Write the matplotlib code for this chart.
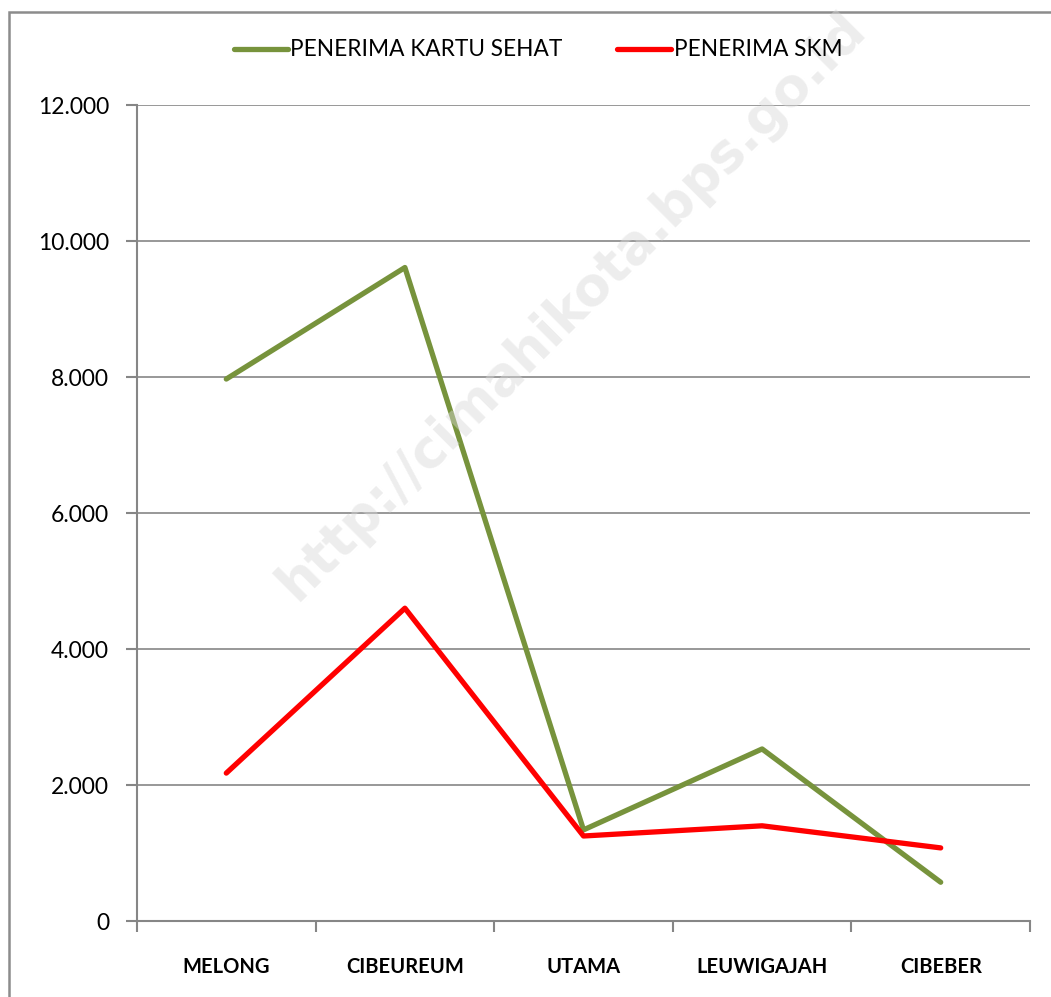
import matplotlib
matplotlib.use("Agg")
import matplotlib.pyplot as plt
from matplotlib.patches import Rectangle
from matplotlib.ticker import FuncFormatter

categories = ["MELONG", "CIBEUREUM", "UTAMA", "LEUWIGAJAH", "CIBEBER"]
kartu_sehat = [7970, 9610, 1340, 2530, 570]
skm = [2175, 4600, 1250, 1400, 1075]
series_names = ["PENERIMA KARTU SEHAT", "PENERIMA SKM"]
yticks = [0, 2000, 4000, 6000, 8000, 10000, 12000]

plt.rcParams['font.family'] = ['Lato', 'DejaVu Sans']

W, H = 1051, 997
fig = plt.figure(figsize=(W / 100, H / 100), dpi=100)
fig.patch.set_facecolor("white")

# outer frame
fig.patches.append(Rectangle((9 / W, -0.05), 1.2, 1 - 12 / H + 0.05, transform=fig.transFigure,
                             fill=False, edgecolor="#8c8c8c", linewidth=1.8, zorder=0))

ax = fig.add_axes([137 / W, (H - 921) / H, (1030 - 137) / W, (921 - 105) / H])
x = list(range(len(categories)))
ax.plot(x, kartu_sehat, color="#77933C", lw=3.8, solid_capstyle="round", solid_joinstyle="round",
        label=series_names[0], zorder=3)
ax.plot(x, skm, color="#FF0000", lw=3.8, solid_capstyle="round", solid_joinstyle="round",
        label=series_names[1], zorder=3)

ax.set_xlim(-0.5, len(categories) - 0.5)
ax.set_ylim(0, 12000)
ax.set_yticks(yticks)
ax.yaxis.set_major_formatter(FuncFormatter(lambda v, p: f"{int(v):,}".replace(",", ".")))
ax.set_xticks(x)
ax.set_xticklabels(categories, fontsize=14.5, fontweight="bold")
ax.set_xticks([i - 0.5 for i in range(len(categories) + 1)], minor=True)
ax.tick_params(axis="x", which="major", length=0, pad=26)
ax.tick_params(axis="x", which="minor", length=8, width=1.5, color="#868686", direction="out")
ax.tick_params(axis="y", length=8, width=1.5, color="#868686", labelsize=16.5, pad=12)
ax.grid(axis="y", color="#868686", lw=1.2)
ax.set_axisbelow(True)
for s in ["top", "right"]:
    ax.spines[s].set_visible(False)
for s in ["left", "bottom"]:
    ax.spines[s].set_color("#868686")
    ax.spines[s].set_linewidth(1.5)

leg = fig.legend(loc="center", bbox_to_anchor=(538 / W, 1 - 50 / H), ncol=2, frameon=False,
                 fontsize=16.3, handlelength=2.4, handletextpad=0.1, columnspacing=2.4)

# watermark
fig.text(572 / W, 1 - 306 / H, "http://cimahikota.bps.go.id", rotation=45, fontsize=38,
         fontweight="bold", color="#d8d8d8", alpha=0.45, ha="center", va="center",
         family=["DejaVu Sans"], zorder=5)

fig.savefig("out.png", dpi=100, facecolor="white")
